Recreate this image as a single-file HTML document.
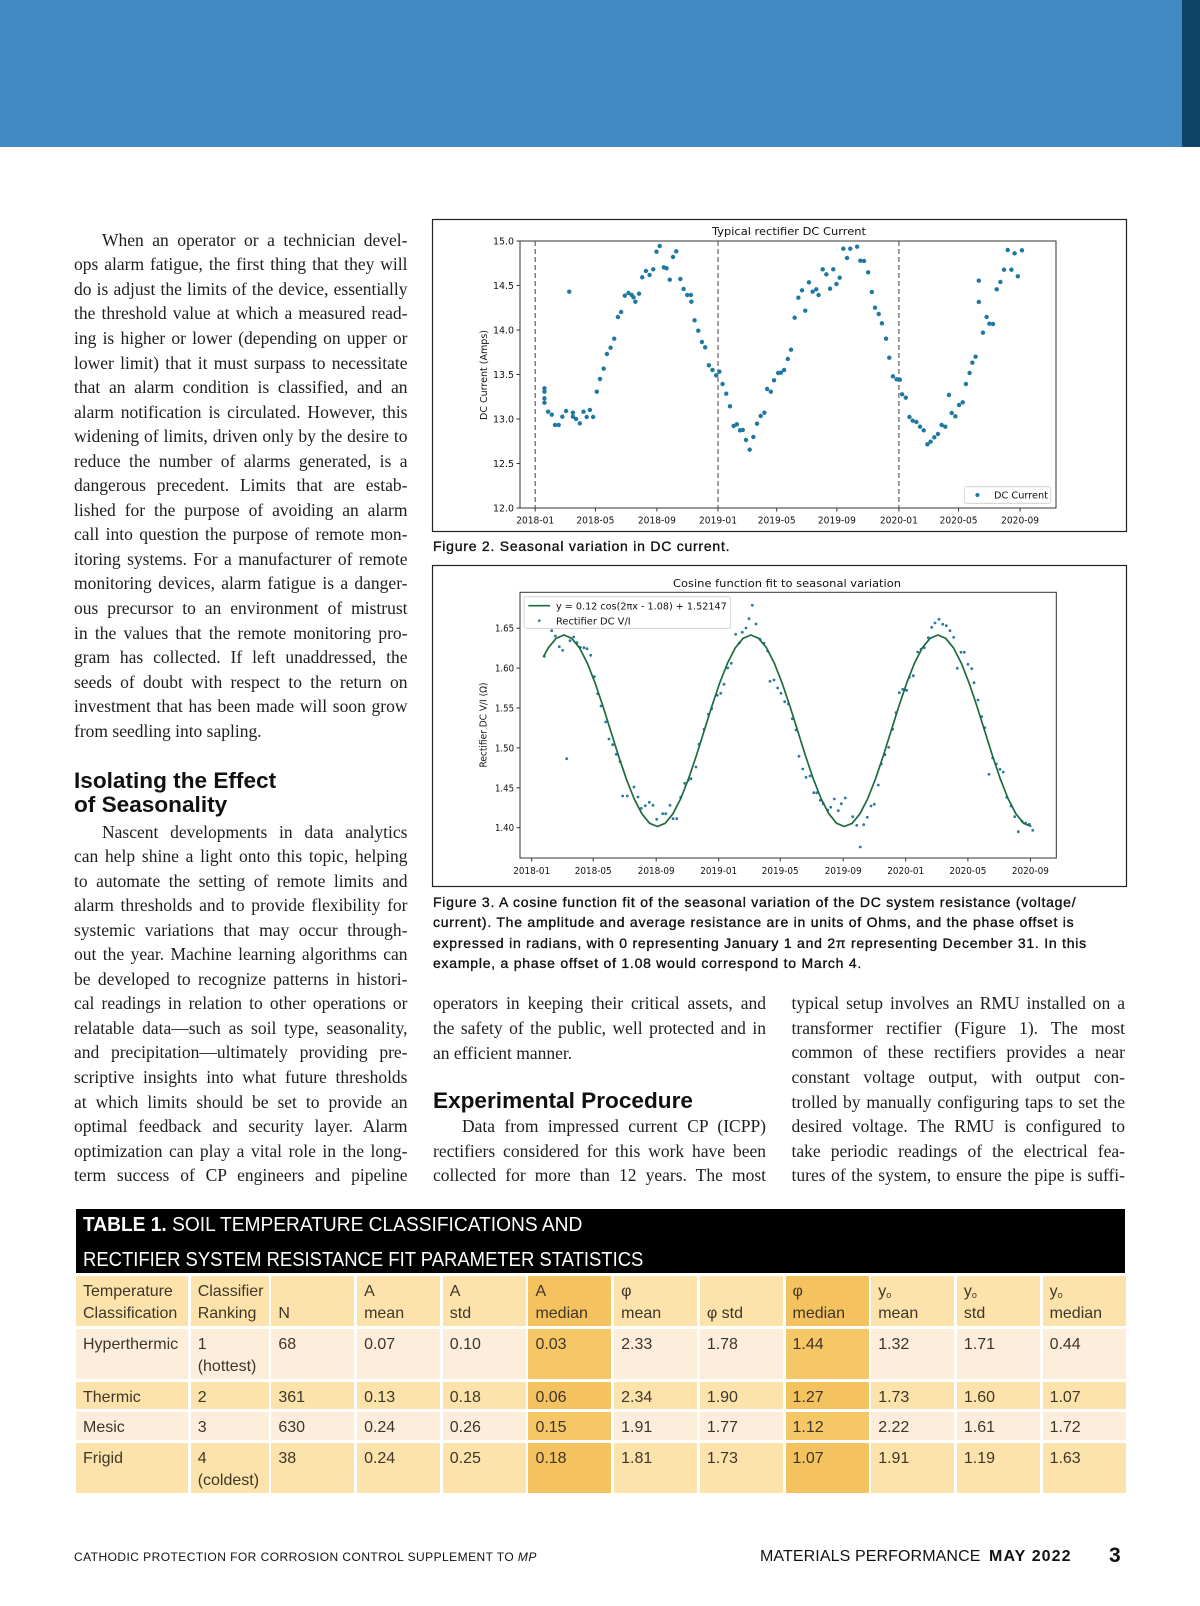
<!DOCTYPE html>
<html><head><meta charset="utf-8">
<style>
html,body{margin:0;padding:0;background:#fff;}
#page{position:relative;width:1200px;height:1606px;overflow:hidden;background:#fff;}
.hdr{position:absolute;left:0;top:0;width:1182px;height:147px;background:#4189c4;}
.hdr2{position:absolute;left:1182px;top:0;width:18px;height:147px;background:#0d4468;}
.txt{position:absolute;font-family:"Liberation Serif",serif;font-size:17.5px;line-height:24.55px;color:#1e1e1e;text-align:justify;text-align-last:justify;}
.last{text-align:left;text-align-last:left;}
.h2{position:absolute;font-family:"Liberation Sans",sans-serif;font-weight:bold;font-size:22.6px;color:#111;white-space:nowrap;}
.cap{position:absolute;left:433px;font-family:"Liberation Sans",sans-serif;font-size:14px;line-height:20.5px;letter-spacing:0.76px;color:#111;white-space:nowrap;-webkit-text-stroke:0.35px #111;}
.tblhead{position:absolute;left:76px;top:1209px;width:1049px;height:64px;background:#000;}
.tl{position:absolute;left:83px;font-family:"Liberation Sans",sans-serif;font-size:20px;line-height:20px;color:#fff;white-space:nowrap;transform-origin:0 0;}
.grid{position:absolute;left:76px;top:1276px;display:grid;grid-template-columns:112px 78px repeat(10,83px);grid-template-rows:50px 49.5px 27.5px 28px 50px;column-gap:2.7px;row-gap:3px;}
.grid div{font-family:"Liberation Sans",sans-serif;font-size:16px;line-height:21.5px;color:#3f3627;padding:5px 4px 0 7px;box-sizing:border-box;white-space:nowrap;overflow:hidden;}
.y{background:#fce3ac;}
.l{background:#fdeedb;}
.m{background:#f6c767;}
.mh{background:#f4c25e;}
sub{font-size:9px;vertical-align:-2px;line-height:0;}
.foot{position:absolute;font-family:"Liberation Sans",sans-serif;color:#111;white-space:nowrap;}
</style></head>
<body><div id="page">
<div class="hdr"></div><div class="hdr2"></div>

<!-- Left column paragraph 1 -->
<div class="txt" style="left:74px;top:227.8px;width:333.5px;"><span style="display:inline-block;width:28px"></span>When an operator or a technician devel-<br>ops alarm fatigue, the first thing that they will<br>do is adjust the limits of the device, essentially<br>the threshold value at which a measured read-<br>ing is higher or lower (depending on upper or<br>lower limit) that it must surpass to necessitate<br>that an alarm condition is classified, and an<br>alarm notification is circulated. However, this<br>widening of limits, driven only by the desire to<br>reduce the number of alarms generated, is a<br>dangerous precedent. Limits that are estab-<br>lished for the purpose of avoiding an alarm<br>call into question the purpose of remote mon-<br>itoring systems. For a manufacturer of remote<br>monitoring devices, alarm fatigue is a danger-<br>ous precursor to an environment of mistrust<br>in the values that the remote monitoring pro-<br>gram has collected. If left unaddressed, the<br>seeds of doubt with respect to the return on<br>investment that has been made will soon grow</div>
<div class="txt last" style="left:74px;top:718.8px;width:333.5px;">from seedling into sapling.</div>

<div class="h2" style="left:74px;top:769.3px;line-height:23.4px;">Isolating the Effect<br>of Seasonality</div>

<div class="txt" style="left:74px;top:819.5px;width:333.5px;"><span style="display:inline-block;width:28px"></span>Nascent developments in data analytics<br>can help shine a light onto this topic, helping<br>to automate the setting of remote limits and<br>alarm thresholds and to provide flexibility for<br>systemic variations that may occur through-<br>out the year. Machine learning algorithms can<br>be developed to recognize patterns in histori-<br>cal readings in relation to other operations or<br>relatable data—such as soil type, seasonality,<br>and precipitation—ultimately providing pre-<br>scriptive insights into what future thresholds<br>at which limits should be set to provide an<br>optimal feedback and security layer. Alarm<br>optimization can play a vital role in the long-<br>term success of CP engineers and pipeline</div>

<!-- Middle column -->
<div class="txt" style="left:433px;top:991.4px;width:333px;">operators in keeping their critical assets, and<br>the safety of the public, well protected and in</div>
<div class="txt last" style="left:433px;top:1040.5px;width:333px;">an efficient manner.</div>
<div class="h2" style="left:433px;top:1089.5px;line-height:22px;">Experimental Procedure</div>
<div class="txt" style="left:433px;top:1114.1px;width:333px;"><span style="display:inline-block;width:29px"></span>Data from impressed current CP (ICPP)<br>rectifiers considered for this work have been<br>collected for more than 12 years. The most</div>

<!-- Right column -->
<div class="txt" style="left:791.5px;top:991.4px;width:333.5px;">typical setup involves an RMU installed on a<br>transformer rectifier (Figure 1). The most<br>common of these rectifiers provides a near<br>constant voltage output, with output con-<br>trolled by manually configuring taps to set the<br>desired voltage. The RMU is configured to<br>take periodic readings of the electrical fea-<br>tures of the system, to ensure the pipe is suffi-</div>

<!-- Captions -->
<div class="cap" style="top:536.1px;">Figure 2. Seasonal variation in DC current.</div>
<div class="cap" style="top:891.7px;">Figure 3. A cosine function fit of the seasonal variation of the DC system resistance (voltage/<br>current). The amplitude and average resistance are in units of Ohms, and the phase offset is<br>expressed in radians, with 0 representing January 1 and 2π representing December 31. In this<br>example, a phase offset of 1.08 would correspond to March 4.</div>

<!-- Charts -->
<svg style="position:absolute;left:0;top:0" width="1200" height="1000" viewBox="0 0 1200 1000" xmlns="http://www.w3.org/2000/svg" font-family="DejaVu Sans, Liberation Sans, sans-serif">
  <!-- Chart 1 -->
  <rect x="432.5" y="219.5" width="694" height="312" fill="#fff" stroke="#222" stroke-width="1.2"/>
  <text x="789" y="235" font-size="11" text-anchor="middle" textLength="154" lengthAdjust="spacingAndGlyphs" fill="#111">Typical rectifier DC Current</text>
  <rect x="520" y="241" width="536" height="267" fill="none" stroke="#333" stroke-width="1"/>
  <g stroke="#555" stroke-width="1.1" stroke-dasharray="5,3">
    <line x1="535.2" y1="241" x2="535.2" y2="508"/>
    <line x1="718" y1="241" x2="718" y2="508"/>
    <line x1="898.9" y1="241" x2="898.9" y2="508"/>
  </g>
  <g stroke="#333" stroke-width="1">
    <line x1="516.5" y1="241" x2="520" y2="241"/>
    <line x1="516.5" y1="285.5" x2="520" y2="285.5"/>
    <line x1="516.5" y1="330" x2="520" y2="330"/>
    <line x1="516.5" y1="374.5" x2="520" y2="374.5"/>
    <line x1="516.5" y1="419" x2="520" y2="419"/>
    <line x1="516.5" y1="463.5" x2="520" y2="463.5"/>
    <line x1="516.5" y1="508" x2="520" y2="508"/>
    <line x1="535.2" y1="508" x2="535.2" y2="511.5"/>
    <line x1="595.4" y1="508" x2="595.4" y2="511.5"/>
    <line x1="656.9" y1="508" x2="656.9" y2="511.5"/>
    <line x1="718" y1="508" x2="718" y2="511.5"/>
    <line x1="776.7" y1="508" x2="776.7" y2="511.5"/>
    <line x1="836.9" y1="508" x2="836.9" y2="511.5"/>
    <line x1="898.9" y1="508" x2="898.9" y2="511.5"/>
    <line x1="958.6" y1="508" x2="958.6" y2="511.5"/>
    <line x1="1020.1" y1="508" x2="1020.1" y2="511.5"/>
  </g>
  <g font-size="9.5" fill="#111" text-anchor="end">
    <text x="514" y="244.5" textLength="21" lengthAdjust="spacingAndGlyphs">15.0</text>
    <text x="514" y="289" textLength="21" lengthAdjust="spacingAndGlyphs">14.5</text>
    <text x="514" y="333.5" textLength="21" lengthAdjust="spacingAndGlyphs">14.0</text>
    <text x="514" y="378" textLength="21" lengthAdjust="spacingAndGlyphs">13.5</text>
    <text x="514" y="422.5" textLength="21" lengthAdjust="spacingAndGlyphs">13.0</text>
    <text x="514" y="467" textLength="21" lengthAdjust="spacingAndGlyphs">12.5</text>
    <text x="514" y="511.5" textLength="21" lengthAdjust="spacingAndGlyphs">12.0</text>
  </g>
  <g font-size="9.5" fill="#111" text-anchor="middle">
    <text x="535.2" y="523.5" textLength="38" lengthAdjust="spacingAndGlyphs">2018-01</text>
    <text x="595.4" y="523.5" textLength="38" lengthAdjust="spacingAndGlyphs">2018-05</text>
    <text x="656.9" y="523.5" textLength="38" lengthAdjust="spacingAndGlyphs">2018-09</text>
    <text x="718" y="523.5" textLength="38" lengthAdjust="spacingAndGlyphs">2019-01</text>
    <text x="776.7" y="523.5" textLength="38" lengthAdjust="spacingAndGlyphs">2019-05</text>
    <text x="836.9" y="523.5" textLength="38" lengthAdjust="spacingAndGlyphs">2019-09</text>
    <text x="898.9" y="523.5" textLength="38" lengthAdjust="spacingAndGlyphs">2020-01</text>
    <text x="958.6" y="523.5" textLength="38" lengthAdjust="spacingAndGlyphs">2020-05</text>
    <text x="1020.1" y="523.5" textLength="38" lengthAdjust="spacingAndGlyphs">2020-09</text>
  </g>
  <text transform="translate(487,375) rotate(-90)" font-size="10" text-anchor="middle" fill="#111" textLength="90" lengthAdjust="spacingAndGlyphs">DC Current (Amps)</text>
  <g transform="translate(420,210) scale(0.45914,0.33333)">
    <path fill="none" stroke="#1e78a0" stroke-width="4.4" stroke-linecap="round" vector-effect="non-scaling-stroke" d="M271 535h.1M271 545h.1M271 565h.1M271 578h.1M279 605h.1M287 614h.1M294 645h.1M302 645h.1M310 620h.1M318 603h.1M325 245h.1M333 608h.1M333 620h.1M340 627h.1M348 640h.1M356 605h.1M363 621h.1M370 600h.1M377 621h.1M385 545h.1M392 507h.1M400 476h.1M407 432h.1M415 413h.1M423 386h.1M431 321h.1M438 306h.1M446 257h.1M454 249h.1M461 255h.1M465 262h.1M469 275h.1M477 251h.1M484 202h.1M492 183h.1M500 195h.1M508 178h.1M515 125h.1M522 108h.1M531 172h.1M537 175h.1M544 209h.1M551 141h.1M558 124h.1M567 207h.1M574 237h.1M582 255h.1M590 255h.1M591 275h.1M598 331h.1M606 362h.1M614 396h.1M621 412h.1M629 466h.1M637 480h.1M645 496h.1M652 485h.1M659 522h.1M667 551h.1M675 589h.1M683 648h.1M690 643h.1M697 661h.1M703 660h.1M710 690h.1M718 719h.1M726 681h.1M734 641h.1M742 618h.1M750 608h.1M756 537h.1M764 545h.1M771 511h.1M780 489h.1M786 488h.1M793 480h.1M801 447h.1M808 419h.1M816 323h.1M824 263h.1M832 241h.1M839 302h.1M847 217h.1M855 245h.1M863 238h.1M868 255h.1M877 178h.1M885 193h.1M893 236h.1M900 178h.1M907 222h.1M914 203h.1M922 116h.1M930 144h.1M937 116h.1M952 110h.1M959 152h.1M967 153h.1M976 187h.1M984 246h.1M991 293h.1M999 312h.1M1006 340h.1M1015 386h.1M1022 443h.1M1030 499h.1M1038 508h.1M1045 509h.1M1050 553h.1M1058 563h.1M1066 621h.1M1073 632h.1M1081 636h.1M1089 650h.1M1097 661h.1M1105 703h.1M1112 695h.1M1120 682h.1M1128 672h.1M1136 645h.1M1144 650h.1M1152 555h.1M1158 609h.1M1166 619h.1M1174 585h.1M1182 577h.1M1189 522h.1M1197 489h.1M1203 458h.1M1210 440h.1M1217 212h.1M1217 276h.1M1226 368h.1M1234 321h.1M1240 341h.1M1248 342h.1M1256 238h.1M1264 216h.1M1272 179h.1M1280 120h.1M1288 179h.1M1295 130h.1M1302 199h.1M1311 121h.1"/>
  </g>
  <rect x="964.5" y="486.7" width="86.3" height="16.6" rx="2" fill="#fff" stroke="#ccc" stroke-width="0.8"/>
  <circle cx="977.4" cy="495" r="2" fill="#1e78a0"/>
  <text x="994" y="498.7" font-size="9.5" fill="#111" textLength="54" lengthAdjust="spacingAndGlyphs">DC Current</text>

  <!-- Chart 2 -->
  <rect x="432.5" y="565.5" width="694" height="321" fill="#fff" stroke="#222" stroke-width="1.2"/>
  <text x="787" y="587" font-size="11" text-anchor="middle" textLength="228" lengthAdjust="spacingAndGlyphs" fill="#111">Cosine function fit to seasonal variation</text>
  <rect x="520" y="592.3" width="536.3" height="265.7" fill="none" stroke="#333" stroke-width="1"/>
  <g stroke="#333" stroke-width="1">
    <line x1="516.5" y1="628.2" x2="520" y2="628.2"/>
    <line x1="516.5" y1="668.1" x2="520" y2="668.1"/>
    <line x1="516.5" y1="708" x2="520" y2="708"/>
    <line x1="516.5" y1="747.9" x2="520" y2="747.9"/>
    <line x1="516.5" y1="787.8" x2="520" y2="787.8"/>
    <line x1="516.5" y1="827.7" x2="520" y2="827.7"/>
    <line x1="531.7" y1="858" x2="531.7" y2="861.5"/>
    <line x1="593.2" y1="858" x2="593.2" y2="861.5"/>
    <line x1="656.2" y1="858" x2="656.2" y2="861.5"/>
    <line x1="718.7" y1="858" x2="718.7" y2="861.5"/>
    <line x1="780.2" y1="858" x2="780.2" y2="861.5"/>
    <line x1="843.2" y1="858" x2="843.2" y2="861.5"/>
    <line x1="905.7" y1="858" x2="905.7" y2="861.5"/>
    <line x1="967.9" y1="858" x2="967.9" y2="861.5"/>
    <line x1="1030.4" y1="858" x2="1030.4" y2="861.5"/>
  </g>
  <g font-size="9.5" fill="#111" text-anchor="end">
    <text x="514" y="631.7" textLength="19" lengthAdjust="spacingAndGlyphs">1.65</text>
    <text x="514" y="671.6" textLength="19" lengthAdjust="spacingAndGlyphs">1.60</text>
    <text x="514" y="711.5" textLength="19" lengthAdjust="spacingAndGlyphs">1.55</text>
    <text x="514" y="751.4" textLength="19" lengthAdjust="spacingAndGlyphs">1.50</text>
    <text x="514" y="791.3" textLength="19" lengthAdjust="spacingAndGlyphs">1.45</text>
    <text x="514" y="831.2" textLength="19" lengthAdjust="spacingAndGlyphs">1.40</text>
  </g>
  <g font-size="9.5" fill="#111" text-anchor="middle">
    <text x="531.7" y="874" textLength="37" lengthAdjust="spacingAndGlyphs">2018-01</text>
    <text x="593.2" y="874" textLength="37" lengthAdjust="spacingAndGlyphs">2018-05</text>
    <text x="656.2" y="874" textLength="37" lengthAdjust="spacingAndGlyphs">2018-09</text>
    <text x="718.7" y="874" textLength="37" lengthAdjust="spacingAndGlyphs">2019-01</text>
    <text x="780.2" y="874" textLength="37" lengthAdjust="spacingAndGlyphs">2019-05</text>
    <text x="843.2" y="874" textLength="37" lengthAdjust="spacingAndGlyphs">2019-09</text>
    <text x="905.7" y="874" textLength="37" lengthAdjust="spacingAndGlyphs">2020-01</text>
    <text x="967.9" y="874" textLength="37" lengthAdjust="spacingAndGlyphs">2020-05</text>
    <text x="1030.4" y="874" textLength="37" lengthAdjust="spacingAndGlyphs">2020-09</text>
  </g>
  <text transform="translate(486.5,725) rotate(-90)" font-size="10" text-anchor="middle" fill="#111" textLength="85" lengthAdjust="spacingAndGlyphs">Rectifier DC V/I (Ω)</text>
  <path fill="none" stroke="#2a7aa0" stroke-width="2.8" stroke-linecap="round" d="M544.3 656.3h.01M551.7 630.7h.01M555.3 636h.01M559.3 646.7h.01M562.7 650.3h.01M566.7 758.7h.01M570 640.7h.01M573.7 637h.01M577 642.7h.01M580.3 647.3h.01M584 647.7h.01M587 648.7h.01M590.7 655.3h.01M594.3 676.7h.01M597.7 693.7h.01M601 706h.01M605.7 722h.01M609 739h.01M612.7 744.7h.01M616.3 754.3h.01M620 761.7h.01M622.7 796h.01M627.3 796h.01M634 787h.01M638 797h.01M641.3 808.3h.01M645.3 805.7h.01M649.3 802.3h.01M653 805.3h.01M656.7 819.3h.01M662.7 813.7h.01M665.7 813.7h.01M670 805.3h.01M673 818.7h.01M676.7 818.7h.01M680.7 797.3h.01M684.7 783.3h.01M688.3 780.3h.01M691 778.7h.01M696 767h.01M699 744.3h.01M704 729.3h.01M708.3 714.3h.01M711.7 708.7h.01M717.3 695.3h.01M720.7 693.3h.01M724 684.3h.01M727.7 668h.01M731.3 663.3h.01M735.7 634.3h.01M739.3 643h.01M742.3 632.3h.01M746 628h.01M749 618.7h.01M752.3 605.3h.01M756 624h.01M760 639.3h.01M764 643.3h.01M767.7 651h.01M770 681.3h.01M774 680h.01M777.7 688h.01M781 693.3h.01M784.7 701.7h.01M788.3 704h.01M792.3 718.7h.01M796 730h.01M799 756.3h.01M802.7 769h.01M806 777.3h.01M810 776h.01M813.7 792.7h.01M816.7 792.7h.01M820.3 800.3h.01M823.3 803.7h.01M827.7 810h.01M830.7 807.3h.01M834.3 799h.01M838.3 810.7h.01M841.3 803.7h.01M845.3 798h.01M852.7 816.7h.01M856.7 825.3h.01M860.3 847h.01M863.7 824.7h.01M867.3 817.3h.01M871 806h.01M874.3 804.3h.01M878.3 785h.01M881.3 764h.01M885 754.7h.01M888.7 747.3h.01M892.7 729.3h.01M896 712.7h.01M899.3 692.7h.01M902.7 689.3h.01M905 690h.01M906.7 690.3h.01M909.3 677.3h.01M913.3 675.7h.01M917.7 652h.01M921 649.3h.01M924.3 647.7h.01M928.3 637.7h.01M931.7 627.3h.01M935 623h.01M939 619.3h.01M942.7 624.3h.01M946.3 625.7h.01M950 630.7h.01M953.7 637.3h.01M957.3 668.3h.01M961 652.3h.01M964.3 652.3h.01M968 664.3h.01M971.7 668.7h.01M974 682.7h.01M978 700h.01M981.7 716.7h.01M984.7 727.7h.01M989 774.3h.01M992.7 758h.01M996.3 764h.01M1000 769.3h.01M1003.3 772h.01M1006.7 797.3h.01M1011 806h.01M1014.7 816.7h.01M1018.3 831.7h.01M1022 821.3h.01M1025.7 823h.01M1029.3 824.3h.01M1032.7 830.3h.01"/>
  <polyline fill="none" stroke="#1d6b3e" stroke-width="1.7" stroke-linejoin="round" points="543.3,657.0 548.32,647.8 556.11,638.3 563.9,635.0 571.69,638.3 579.48,647.8 587.28,663.1 595.07,682.9 602.86,706.0 610.65,730.8 618.44,755.6 626.23,778.7 634.03,798.5 641.82,813.7 649.61,823.3 657.4,826.5 665.19,823.3 672.98,813.7 680.78,798.5 688.57,778.7 696.36,755.6 704.15,730.8 711.94,706.0 719.73,682.9 727.53,663.1 735.32,647.8 743.11,638.3 750.9,635.0 758.69,638.3 766.48,647.8 774.28,663.1 782.07,682.9 789.86,706.0 797.65,730.8 805.44,755.6 813.23,778.7 821.03,798.5 828.82,813.7 836.61,823.3 844.4,826.5 852.19,823.3 859.98,813.7 867.78,798.5 875.57,778.7 883.36,755.6 891.15,730.8 898.94,706.0 906.73,682.9 914.53,663.1 922.32,647.8 930.11,638.3 937.9,635.0 945.69,638.3 953.48,647.8 961.28,663.1 969.07,682.9 976.86,706.0 984.65,730.8 992.44,755.6 1000.23,778.7 1008.03,798.5 1015.82,813.7 1023.61,823.3 1031.4,826.5"/>
  <rect x="524" y="596.7" width="206.7" height="31.6" rx="2" fill="#fff" fill-opacity="0.85" stroke="#ccc" stroke-width="0.8"/>
  <line x1="528.3" y1="605.7" x2="550" y2="605.7" stroke="#1d6b3e" stroke-width="1.7"/>
  <text x="556" y="609.5" font-size="9.5" fill="#111" textLength="170.7" lengthAdjust="spacingAndGlyphs">y = 0.12 cos(2πx - 1.08) + 1.52147</text>
  <circle cx="539.3" cy="620.7" r="1.3" fill="#2a7aa0"/>
  <text x="556" y="624.3" font-size="9.5" fill="#111" textLength="74.7" lengthAdjust="spacingAndGlyphs">Rectifier DC V/I</text>
</svg>

<!-- Table -->
<div class="tblhead"></div>
<div class="tl" style="top:1214.9px;transform:scaleX(0.958);"><b>TABLE 1.</b> SOIL TEMPERATURE CLASSIFICATIONS AND</div>
<div class="tl" style="top:1249.9px;transform:scaleX(0.923);">RECTIFIER SYSTEM RESISTANCE FIT PARAMETER STATISTICS</div>
<div class="grid">
  <div class="y">Temperature<br>Classification</div>
  <div class="y">Classifier<br>Ranking</div>
  <div class="y"><br>N</div>
  <div class="y">A<br>mean</div>
  <div class="y">A<br>std</div>
  <div class="mh">A<br>median</div>
  <div class="y">φ<br>mean</div>
  <div class="y"><br>φ std</div>
  <div class="mh">φ<br>median</div>
  <div class="y">y<sub>o</sub><br>mean</div>
  <div class="y">y<sub>o</sub><br>std</div>
  <div class="y">y<sub>o</sub><br>median</div>

  <div class="l">Hyperthermic</div>
  <div class="l">1<br>(hottest)</div>
  <div class="l">68</div>
  <div class="l">0.07</div>
  <div class="l">0.10</div>
  <div class="m">0.03</div>
  <div class="l">2.33</div>
  <div class="l">1.78</div>
  <div class="m">1.44</div>
  <div class="l">1.32</div>
  <div class="l">1.71</div>
  <div class="l">0.44</div>

  <div class="y">Thermic</div>
  <div class="y">2</div>
  <div class="y">361</div>
  <div class="y">0.13</div>
  <div class="y">0.18</div>
  <div class="mh">0.06</div>
  <div class="y">2.34</div>
  <div class="y">1.90</div>
  <div class="mh">1.27</div>
  <div class="y">1.73</div>
  <div class="y">1.60</div>
  <div class="y">1.07</div>

  <div class="l">Mesic</div>
  <div class="l">3</div>
  <div class="l">630</div>
  <div class="l">0.24</div>
  <div class="l">0.26</div>
  <div class="m">0.15</div>
  <div class="l">1.91</div>
  <div class="l">1.77</div>
  <div class="m">1.12</div>
  <div class="l">2.22</div>
  <div class="l">1.61</div>
  <div class="l">1.72</div>

  <div class="y">Frigid</div>
  <div class="y">4<br>(coldest)</div>
  <div class="y">38</div>
  <div class="y">0.24</div>
  <div class="y">0.25</div>
  <div class="mh">0.18</div>
  <div class="y">1.81</div>
  <div class="y">1.73</div>
  <div class="mh">1.07</div>
  <div class="y">1.91</div>
  <div class="y">1.19</div>
  <div class="y">1.63</div>
</div>

<!-- Footer -->
<div class="foot" style="left:74px;top:1551px;font-size:12px;line-height:12px;letter-spacing:0.45px;">CATHODIC PROTECTION FOR CORROSION CONTROL SUPPLEMENT TO <i>MP</i></div>
<div class="foot" style="left:760px;top:1548.7px;font-size:16px;line-height:16px;letter-spacing:0.1px;">MATERIALS PERFORMANCE <b style="letter-spacing:1.1px;margin-left:4px;">MAY 2022</b></div>
<div class="foot" style="left:1109px;top:1544.5px;font-size:21px;line-height:21px;font-weight:bold;">3</div>

</div></body></html>
